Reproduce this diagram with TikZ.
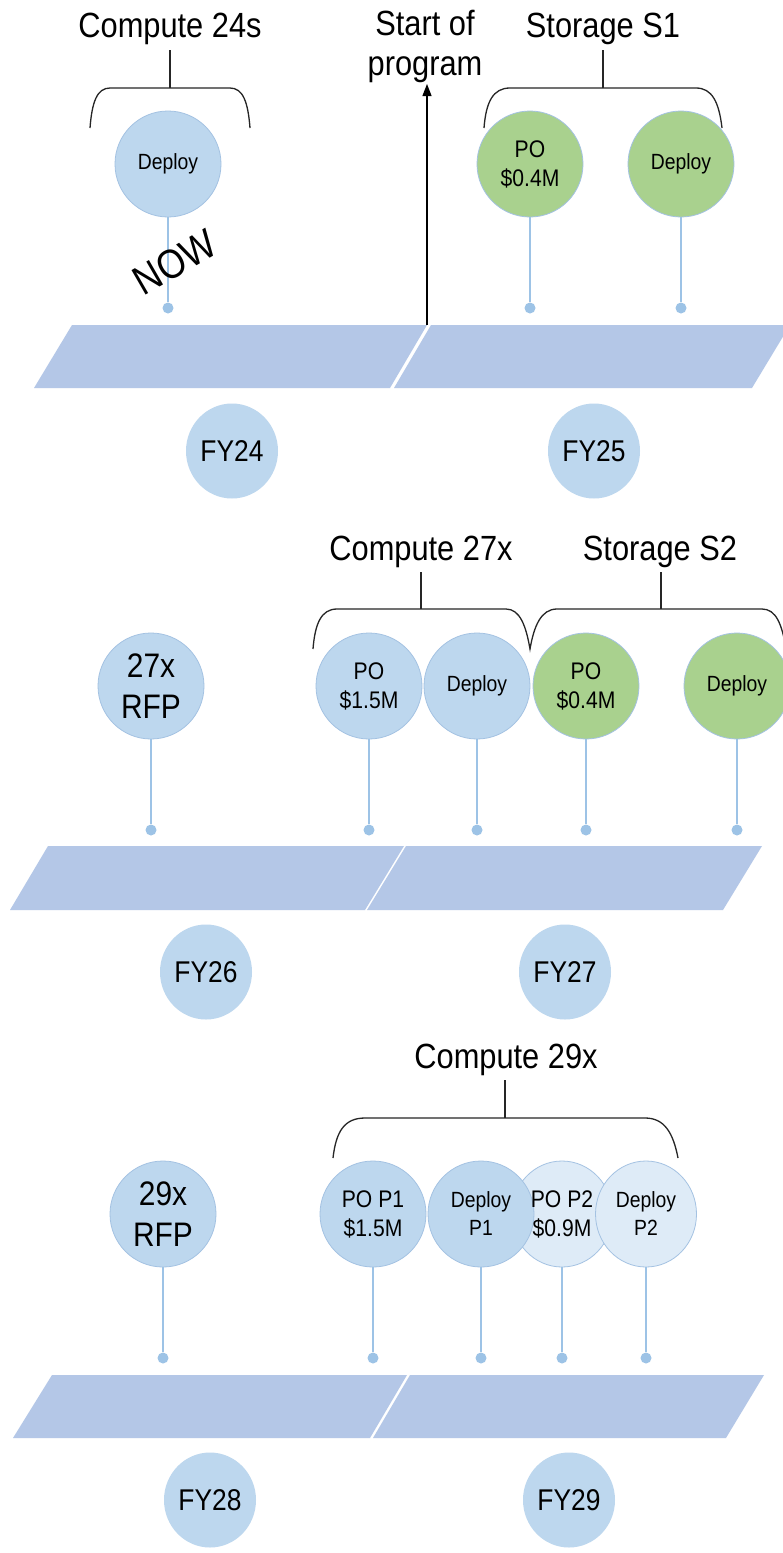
\documentclass[tikz,border=0pt]{standalone}
\usepackage{fontspec}
\setmainfont{Liberation Sans}[FakeStretch=0.88]
\usetikzlibrary{arrows.meta,shapes.geometric}
\definecolor{evblue}{HTML}{BDD7EE}
\definecolor{evgreen}{HTML}{A9D18E}
\definecolor{evlight}{HTML}{DEEBF7}
\definecolor{barfill}{HTML}{B4C7E7}
\definecolor{stemc}{HTML}{9DC3E6}
\definecolor{ringc}{HTML}{A4C2E2}
\begin{document}
\begin{tikzpicture}[x=1pt,y=-1pt,
  ev/.style={ellipse, inner sep=0pt, minimum width=106pt, minimum height=106pt, draw=ringc, line width=0.8pt, align=center, text=black},
  evb/.style={ev, fill=evblue},
  evg/.style={ev, fill=evgreen},
  evl/.style={ev, fill=evlight, minimum width=101pt},
  fy/.style={ellipse, inner sep=0pt, minimum width=92pt, minimum height=95pt, fill=evblue, font=\fontsize{30}{36}\selectfont},
  dot/.style={circle, fill=stemc, inner sep=0pt, minimum size=11pt},
  stemline/.style={draw=stemc, line width=2pt},
  bar/.style={fill=barfill},
  brace/.style={draw=black!85, line width=1.3pt},
  head/.style={font=\fontsize{35}{40}\selectfont, anchor=base},
  sm/.style={font=\fontsize{22}{28}\selectfont},
  md/.style={font=\fontsize{24}{29}\selectfont},
  big/.style={font=\fontsize{34}{41}\selectfont},
]
\clip (0,0) rectangle (783,1553);
\fill[white] (0,0) rectangle (783,1553);

% ---------------- Row 1 ----------------
\node[head] (c24) at (170,37) {Compute 24s};
\node[head] (s1) at (603,37) {Storage S1};
\node[font=\fontsize{35}{40}\selectfont, align=center] (sop) at (425,46) {Start of\\program};

\draw[brace] (170,50) -- (170,88);
\draw[brace] (90,128) .. controls (92,102) and (97,88) .. (110,88) -- (230,88) .. controls (243,88) and (248,102) .. (250,128);
\draw[brace] (603,50) -- (603,88);
\draw[brace] (484,128) .. controls (486,102) and (493,88) .. (510,88) -- (696,88) .. controls (712,88) and (719,102) .. (722,128);

\fill[bar] (72,325) -- (427,325) -- (390,388) -- (34,388) -- cycle;
\fill[bar] (431,325) -- (790,325) -- (752,388) -- (394,388) -- cycle;

\node[evb, sm] (d24) at (168,164) {Deploy};
\node[evg, md] (po25) at (530,164) {PO\\\$0.4M};
\node[evg, sm] (d25) at (681,164) {Deploy};
\node[dot] (dt11) at (168,308) {};
\node[dot] (dt12) at (530,308) {};
\node[dot] (dt13) at (681,308) {};
\draw[stemline] (d24.south) -- (dt11);
\draw[stemline] (po25.south) -- (dt12);
\draw[stemline] (d25.south) -- (dt13);

\node[font=\fontsize{41}{44}\selectfont, rotate=30, inner sep=0pt] (now) at (175,262) {NOW};

\coordinate (arrbase) at (427,325);
\coordinate (arrtip) at (427,84);
\draw[line width=1.3pt, -{Triangle[length=12pt,width=9pt]}] (arrbase) -- (arrtip);

\node[fy] (fy24) at (232,451) {FY24};
\node[fy] (fy25) at (594,451) {FY25};

% ---------------- Row 2 ----------------
\node[head] (c27) at (421,560) {Compute 27x};
\node[head] (s2) at (660,560) {Storage S2};
\draw[brace] (421,572) -- (421,609);
\draw[brace] (661,572) -- (661,609);
\draw[brace] (313,649) .. controls (315,624) and (321,609) .. (337,609) -- (506,609) .. controls (520,609) and (526,626) .. (530,649) .. controls (534,626) and (541,609) .. (557,609) -- (762,609) .. controls (776,609) and (782,624) .. (786,649);

\fill[bar] (48,846) -- (404,846) -- (365,910) -- (10,910) -- cycle;
\fill[bar] (406,846) -- (762,846) -- (723,910) -- (367,910) -- cycle;

\node[evb, big] (rfp27) at (151,686) {27x\\RFP};
\node[evb, md] (po27) at (369,686) {PO\\\$1.5M};
\node[evb, sm] (d27) at (477,686) {Deploy};
\node[evg, md] (pos2) at (586,686) {PO\\\$0.4M};
\node[evg, sm] (ds2) at (737,686) {Deploy};
\node[dot] (dt21) at (151,830) {};
\node[dot] (dt22) at (369,830) {};
\node[dot] (dt23) at (477,830) {};
\node[dot] (dt24) at (586,830) {};
\node[dot] (dt25) at (737,830) {};
\draw[stemline] (rfp27.south) -- (dt21);
\draw[stemline] (po27.south) -- (dt22);
\draw[stemline] (d27.south) -- (dt23);
\draw[stemline] (pos2.south) -- (dt24);
\draw[stemline] (ds2.south) -- (dt25);

\node[fy] (fy26) at (206,972) {FY26};
\node[fy] (fy27) at (565,972) {FY27};

% ---------------- Row 3 ----------------
\node[head] (c29) at (506,1068) {Compute 29x};
\draw[brace] (505,1080) -- (505,1118);
\draw[brace] (333,1158) .. controls (336,1132) and (344,1118) .. (365,1118) -- (645,1118) .. controls (664,1118) and (673,1132) .. (678,1158);

\fill[bar] (52,1375) -- (407,1375) -- (370,1438) -- (13,1438) -- cycle;
\fill[bar] (410,1375) -- (764,1375) -- (726,1438) -- (373,1438) -- cycle;

\node[evb, big] (rfp29) at (163,1214) {29x\\RFP};
\node[evb, md] (pop1) at (373,1214) {PO P1\\\$1.5M};
\node[evl] (pop2) at (562,1214) {};
\node[evb, sm] (dp1) at (481,1214) {Deploy\\P1};
\node[evl, sm] (dp2) at (646,1214) {Deploy\\P2};
\node[md, align=center] (pop2t) at (pop2) {PO P2\\\$0.9M};
\node[dot] (dt31) at (163,1358) {};
\node[dot] (dt32) at (373,1358) {};
\node[dot] (dt33) at (481,1358) {};
\node[dot] (dt34) at (562,1358) {};
\node[dot] (dt35) at (646,1358) {};
\draw[stemline] (rfp29.south) -- (dt31);
\draw[stemline] (pop1.south) -- (dt32);
\draw[stemline] (dp1.south) -- (dt33);
\draw[stemline] (pop2.south) -- (dt34);
\draw[stemline] (dp2.south) -- (dt35);

\node[fy] (fy28) at (210,1500) {FY28};
\node[fy] (fy29) at (569,1500) {FY29};
\end{tikzpicture}
\end{document}
